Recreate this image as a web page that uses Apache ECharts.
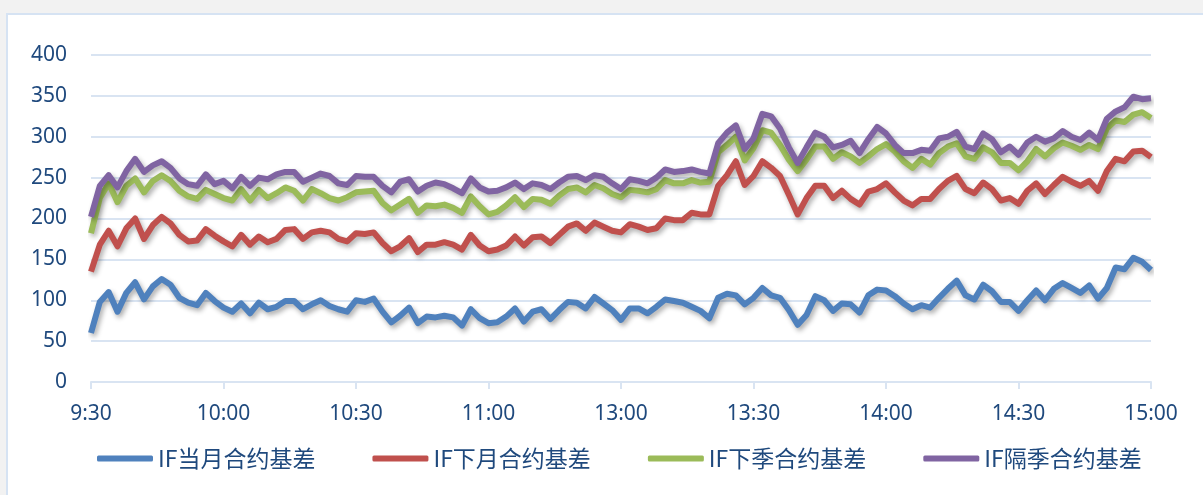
<!DOCTYPE html>
<html>
<head>
<meta charset="utf-8">
<script src="https://cdn.jsdelivr.net/npm/echarts@6/dist/echarts.min.js"></script>
<style>
  html, body { margin: 0; padding: 0; width: 1203px; height: 495px; background: #f2f2f2; overflow: hidden; }
  #card { position: absolute; left: 6px; top: 13px; width: 1210px; height: 500px; background: #ffffff; border: 2px solid #d6e3f3; box-sizing: border-box; }
  #chart { position: absolute; left: 0; top: 0; width: 1203px; height: 495px; }
</style>
</head>
<body>
<div id="card"></div>
<div id="chart"></div>
<script>
// Tick labels of the x axis (every 30 trading minutes; 11:30 and 13:00 share one tick)
const tickLabels = ['9:30', '10:00', '10:30', '11:00', '13:00', '13:30', '14:00', '14:30', '15:00'];
const seriesNames = ['IF当月合约基差', 'IF下月合约基差', 'IF下季合约基差', 'IF隔季合约基差'];

// Basis values sampled every 2 trading minutes (121 points)
const ifCurrentMonth = [
  60, 98, 110, 86, 109, 122, 101, 117, 126, 119, 103, 97, 94, 109, 99, 91,
  86, 96, 84, 97, 89, 92, 99, 99, 89, 95, 100, 93, 89, 86, 100,
  98, 102, 86, 73, 81, 91, 72, 80, 79, 81, 79, 69, 89, 78, 72,
  73, 80, 90, 74, 86, 89, 77, 88, 98, 97, 90, 104, 96, 88, 76,
  90, 90, 84, 92, 101, 99, 97, 92, 87, 78, 103, 108, 106, 95, 103,
  115, 106, 103, 88, 70, 82, 105, 100, 87, 96, 95, 85, 106, 113, 112,
  105, 96, 89, 94, 91, 103, 114, 124, 106, 101, 119, 111, 98, 98, 87,
  100, 112, 100, 114, 121, 115, 109, 118, 102, 115, 140, 138, 152, 147, 137
];
const ifNextMonth = [
  135, 168, 185, 166, 188, 200, 175, 192, 202, 194, 180, 172, 173, 187, 179, 172,
  166, 180, 168, 178, 171, 175, 186, 187, 175, 183, 185, 183, 175, 172, 182,
  181, 183, 170, 160, 166, 176, 159, 168, 168, 171, 168, 162, 180, 167, 160,
  162, 167, 178, 167, 177, 178, 170, 180, 190, 194, 185, 195, 190, 185, 183,
  193, 190, 186, 188, 200, 198, 198, 207, 205, 205, 240, 253, 270, 241, 252,
  270, 262, 252, 229, 205, 225, 240, 240, 225, 234, 224, 217, 233, 236, 243,
  232, 222, 216, 224, 224, 236, 246, 252, 236, 231, 244, 236, 222, 225, 218,
  234, 243, 230, 241, 251, 245, 240, 246, 234, 258, 273, 270, 282, 283, 275
];
const ifNextQuarter = [
  182, 225, 243, 220, 240, 249, 232, 246, 253, 246, 234, 227, 224, 235, 230, 225,
  222, 236, 222, 235, 225, 231, 238, 234, 222, 236, 231, 225, 222, 226, 232,
  233, 234, 219, 210, 217, 224, 207, 216, 215, 217, 213, 207, 227, 215, 205,
  208, 216, 226, 214, 224, 223, 218, 228, 236, 238, 232, 241, 237, 230, 226,
  235, 234, 232, 236, 247, 243, 243, 247, 244, 245, 281, 290, 300, 271, 286,
  308, 305, 290, 272, 258, 272, 288, 288, 273, 281, 276, 268, 276, 285, 291,
  282, 270, 262, 273, 266, 280, 288, 292, 276, 273, 287, 281, 268, 268, 259,
  270, 285, 276, 286, 293, 289, 284, 290, 285, 310, 320, 318, 327, 330, 323
];
const ifFarQuarter = [
  202, 240, 253, 238, 258, 273, 257, 265, 270, 262, 249, 242, 240, 254, 242, 246,
  237, 251, 240, 250, 248, 254, 257, 257, 245, 250, 255, 252, 243, 241, 252,
  251, 251, 240, 232, 245, 248, 233, 240, 244, 242, 237, 231, 249, 238, 233,
  234, 238, 244, 236, 243, 241, 236, 244, 251, 252, 247, 253, 251, 243, 236,
  248, 246, 243, 250, 260, 257, 258, 260, 257, 255, 292, 305, 314, 285, 298,
  328, 325, 310, 287, 268, 287, 305, 300, 287, 290, 295, 280, 297, 312, 304,
  290, 280, 280, 284, 283, 298, 300, 306, 288, 285, 304, 297, 281, 288, 278,
  293, 300, 294, 298, 307, 300, 296, 305, 296, 322, 331, 336, 349, 346, 347
];
const colors = ['#4f81bd', '#c0504d', '#9bbb59', '#8064a2'];

// Category axis: trading minutes 9:30-11:30, 13:00-15:00 every 2 minutes
const categories = [];
for (let i = 0; i < ifCurrentMonth.length; i++) {
  let m = i * 2;
  let t = m <= 120 ? 9 * 60 + 30 + m : 13 * 60 + (m - 120);
  let h = Math.floor(t / 60), mm = t % 60;
  categories.push(h + ':' + (mm < 10 ? '0' : '') + mm);
}

const chart = echarts.init(document.getElementById('chart'), null, { renderer: 'canvas' });
const labelColor = '#1f497d';
const gridColor = '#d9e4f2';
const allData = [ifCurrentMonth, ifNextMonth, ifNextQuarter, ifFarQuarter];

chart.setOption({
  backgroundColor: 'transparent',
  animation: false,
  color: colors,
  grid: { left: 91, right: 52, top: 55, bottom: 113, containLabel: false },
  legend: {
    left: 92, top: 442,
    itemWidth: 56, itemHeight: 6, itemGap: 57,
    icon: 'roundRect',
    textStyle: { fontSize: 23, color: labelColor, fontFamily: 'Noto Sans CJK SC' },
    data: seriesNames
  },
  xAxis: {
    type: 'category',
    data: categories,
    boundaryGap: false,
    axisLine: { lineStyle: { color: gridColor, width: 2 } },
    axisTick: { show: true, interval: 14, length: 7, lineStyle: { color: gridColor, width: 2 } },
    axisLabel: {
      interval: 14, margin: 22, fontSize: 21, color: labelColor, fontFamily: 'Noto Sans',
      formatter: function (v, idx) { return tickLabels[Math.round(idx / 15)]; }
    },
    splitLine: { show: false }
  },
  yAxis: {
    type: 'value', min: 0, max: 400, interval: 50,
    axisLine: { show: false }, axisTick: { show: false },
    axisLabel: { margin: 24, fontSize: 21, color: labelColor, fontFamily: 'Noto Sans' },
    splitLine: { lineStyle: { color: gridColor, width: 2 } }
  },
  series: allData.map((d, k) => ({
    name: seriesNames[k],
    type: 'line',
    data: d,
    showSymbol: false,
    symbol: 'none',
    smooth: false,
    lineStyle: {
      width: 6, color: colors[k], join: 'round', cap: 'butt',
      shadowColor: 'rgba(0,0,0,0.32)', shadowBlur: 5, shadowOffsetX: 2, shadowOffsetY: 3
    },
    itemStyle: { color: colors[k] }
  }))
});
</script>
</body>
</html>
